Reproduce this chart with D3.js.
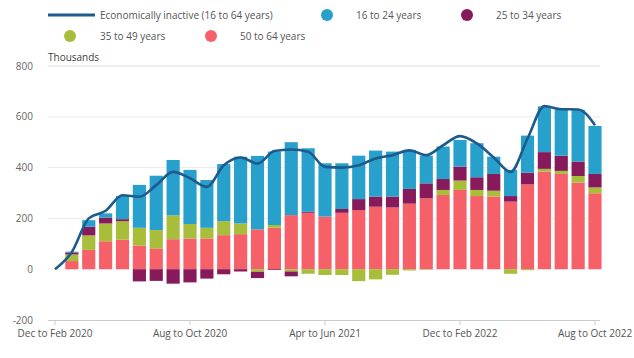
<!DOCTYPE html>
<html><head><meta charset="utf-8">
<script src="https://cdn.jsdelivr.net/npm/d3@7/dist/d3.min.js"></script>
<style>
body{margin:0;background:#fff;}
svg text{font-family:"Open Sans",sans-serif;}
</style></head>
<body><svg id="c" width="634" height="358"></svg>
<script>
const periods = ["Dec to Feb 2020","Jan to Mar 2020","Feb to Apr 2020","Mar to May 2020","Apr to Jun 2020","May to Jul 2020","Jun to Aug 2020","Jul to Sep 2020","Aug to Oct 2020","Sep to Nov 2020","Oct to Dec 2020","Nov to Jan 2021","Dec to Feb 2021","Jan to Mar 2021","Feb to Apr 2021","Mar to May 2021","Apr to Jun 2021","May to Jul 2021","Jun to Aug 2021","Jul to Sep 2021","Aug to Oct 2021","Sep to Nov 2021","Oct to Dec 2021","Nov to Jan 2022","Dec to Feb 2022","Jan to Mar 2022","Feb to Apr 2022","Mar to May 2022","Apr to Jun 2022","May to Jul 2022","Jun to Aug 2022","Jul to Sep 2022","Aug to Oct 2022"];
const tickLabels = ["Dec to Feb 2020","Aug to Oct 2020","Apr to Jun 2021","Dec to Feb 2022","Aug to Oct 2022"];
const yTicks = [-200,0,200,400,600,800];
const inactive = [0,68,200,230,291,285,331,383,358,324,409,440,416,465,471,462,403,400,409,436,449,468,449,488,524,495,440,383,514,642,630,629,567];
const age50to64 = [0,32,76,110,116,93,82,118,121,121,134,138,157,163,213,222,207,222,233,246,243,258,279,292,312,288,286,266,334,384,375,341,299];
const age35to49 = [0,26,57,70,73,70,72,94,57,42,55,42,-10,11,-9,-18,-23,-23,-47,-40,-22,-5,-2,20,37,24,23,-18,-4,11,12,26,23];
const age25to34 = [0,8,34,23,8,-48,-46,-57,-52,-37,-20,-9,-25,-3,-19,4,0,15,43,40,43,58,59,43,55,50,66,22,46,66,60,57,53];
const age16to24 = [0,3,26,17,91,169,214,218,213,188,225,263,289,289,287,250,210,180,171,181,177,154,109,128,105,134,68,103,146,180,181,204,189];

const seriesNames = ["50 to 64 years","35 to 49 years","25 to 34 years","16 to 24 years"];
const seriesValues = [age50to64, age35to49, age25to34, age16to24];
const colors = {"50 to 64 years":"#f66068","35 to 49 years":"#a8bd3a","25 to 34 years":"#871a5b","16 to 24 years":"#27a0cc"};
const lineColor = "#1f5a8c";

const table = periods.map((p,i)=>{const o={period:p}; seriesNames.forEach((s,k)=>o[s]=seriesValues[k][i]); return o;});

const svg = d3.select("#c");
const step = 16.875;
const x = d3.scaleBand().domain(periods).range([55-step/2, 595+step/2]).paddingInner(0.22).paddingOuter(0.11);
const cx = d => x(d)+x.bandwidth()/2;
const y = d3.scaleLinear().domain([-200,800]).range([320,66]);
const FS = 10;

// gridlines
svg.append("g").selectAll("line").data(yTicks.filter(t=>t>-200)).join("line")
  .attr("x1",48).attr("x2",600).attr("y1",d=>y(d)).attr("y2",d=>y(d))
  .attr("stroke",d=>d===800?"#dcdcdc":"#ececec").attr("stroke-width",1);

// y labels
svg.append("g").selectAll("text").data(yTicks).join("text")
  .attr("x",33).attr("y",d=>y(d)).attr("dy","0.35em").attr("text-anchor","end")
  .attr("font-size",FS).attr("fill","#666").text(d=>d);
svg.append("text").attr("x",48).attr("y",61).attr("font-size",FS).attr("fill","#414042").text("Thousands");

// bars
const stack = d3.stack().keys(seriesNames).offset(d3.stackOffsetDiverging);
const stacked = stack(table);
svg.append("g").selectAll("g").data(stacked).join("g").attr("fill",d=>colors[d.key])
  .selectAll("rect").data(d=>d).join("rect")
  .attr("x",d=>x(d.data.period)).attr("width",x.bandwidth())
  .attr("y",d=>y(Math.max(d[0],d[1]))).attr("height",d=>Math.abs(y(d[0])-y(d[1])));

// x axis
const xAxis = d3.axisBottom(x).tickValues(tickLabels).tickSize(5).tickSizeOuter(0).tickPadding(5);
const gx = svg.append("g").attr("transform","translate(0,320)").call(xAxis);
gx.select(".domain").attr("d","M48,0.5H600").attr("stroke","#ccc");
gx.selectAll(".tick line").attr("stroke","#ccc");
gx.selectAll(".tick text").attr("font-size",FS).attr("fill","#555").attr("font-family","'Open Sans',sans-serif");

// line
const line = d3.line().x((d,i)=>cx(periods[i])).y(d=>y(d)).curve(d3.curveMonotoneX);
svg.append("path").datum(inactive).attr("d",line).attr("fill","none")
  .attr("stroke",lineColor).attr("stroke-width",2.6).attr("stroke-linejoin","round");

// legend
const lg = svg.append("g");
lg.append("line").attr("x1",48).attr("x2",95).attr("y1",15).attr("y2",15).attr("stroke",lineColor).attr("stroke-width",3);
lg.append("text").attr("x",100).attr("y",15).attr("dy","0.35em").attr("font-size",FS).attr("fill","#555").text("Economically inactive (16 to 64 years)");
const legItems = [
  {name:"16 to 24 years", cx:327, tx:356, y:15},
  {name:"25 to 34 years", cx:467, tx:496, y:15},
  {name:"35 to 49 years", cx:70, tx:100, y:36},
  {name:"50 to 64 years", cx:211, tx:240, y:36}
];
legItems.forEach(it=>{
  lg.append("circle").attr("cx",it.cx).attr("cy",it.y).attr("r",6).attr("fill",colors[it.name]);
  lg.append("text").attr("x",it.tx).attr("y",it.y).attr("dy","0.35em").attr("font-size",FS).attr("fill","#555").text(it.name);
});
</script></body></html>
